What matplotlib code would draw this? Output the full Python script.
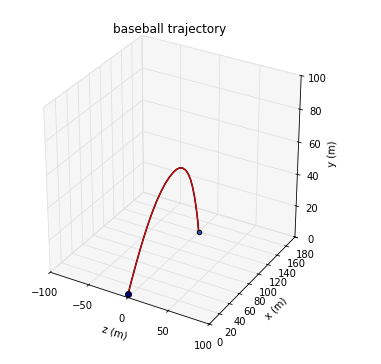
import matplotlib
matplotlib.use('Agg')
import matplotlib.pyplot as plt
import numpy as np
from mpl_toolkits.mplot3d import Axes3D  # noqa

# trajectory samples (metres)
traj_x = [0, 8, 16, 24, 32, 40, 48, 56, 64, 72, 80, 88, 94, 100, 106, 112,
          117, 122, 126, 130, 133, 136, 138, 139.5]
traj_y = [2, 9.5, 16.6, 23.2, 29.3, 34.8, 39.6, 43.7, 47, 49.6, 51.3, 52.2, 52.3,
          51.6, 49.9, 47, 43.5, 38.5, 33, 26, 19.5, 12, 6, 0]
traj_z = [0] * len(traj_x)

z_ticks = [-100, -50, 0, 50, 100]
x_ticks = [0, 20, 40, 60, 80, 100, 120, 140, 160, 180]
y_ticks = [0, 20, 40, 60, 80, 100]

plt.rcParams['font.size'] = 10

fig = plt.figure(figsize=(381/72., 364/72.), dpi=72)
ax = fig.add_axes([-0.019, 0.042, 0.93, 0.93], projection='3d')
ax.set_box_aspect((4, 4, 4.1), zoom=0.92)

# z on horizontal, x in depth, y up
ax.plot(traj_z, traj_x, traj_y, color='black', lw=1.6)
ax.plot(traj_z, traj_x, traj_y, color='red', lw=1.0)
ax.plot([traj_z[0]], [traj_x[0]], [traj_y[0]], 'o', color='#000080', ms=6, mec='black')
ax.plot([traj_z[-1]], [traj_x[-1]], [traj_y[-1]], 'o', color='#3050c0', ms=4.5, mec='black')

ax.set_xlim(-100, 100)
ax.set_ylim(0, 180)
ax.set_zlim(0, 100)
ax.set_xticks(z_ticks)
ax.set_yticks(x_ticks)
ax.set_zticks(y_ticks)
ax.set_xlabel('z (m)')
ax.set_ylabel('x (m)')
ax.set_zlabel('y (m)')
fig.text(170/381., 1 - 30/364., 'baseball trajectory', ha='center', va='center', fontsize=12)

for a in (ax.xaxis, ax.yaxis, ax.zaxis):
    a.set_pane_color((0.94, 0.94, 0.94, 0.6))
    a._axinfo['grid']['color'] = (0.88, 0.88, 0.88, 1)
    a._axinfo['grid']['linewidth'] = 0.8

fig.savefig('out.png', dpi=72)
